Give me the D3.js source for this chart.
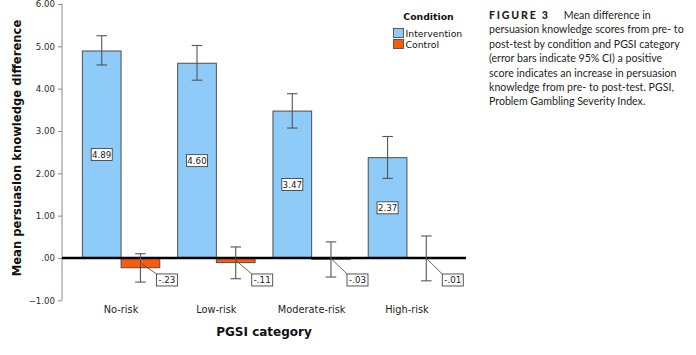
<!DOCTYPE html>
<html><head><meta charset="utf-8">
<script src="https://cdn.jsdelivr.net/npm/d3@7"></script>
<style>
body{margin:0;background:#fff;}
svg{display:block;}
</style></head>
<body><svg id="c" width="696" height="355"></svg>
<script>
const categories = ["No-risk","Low-risk","Moderate-risk","High-risk"];
const conditions = ["Intervention","Control"];
const intervention = [4.89, 4.60, 3.47, 2.37];
const control = [-0.23, -0.11, -0.03, -0.01];
const interventionLow = [4.56, 4.20, 3.07, 1.88];
const interventionHigh = [5.25, 5.02, 3.88, 2.87];
const controlLow = [-0.57, -0.49, -0.45, -0.54];
const controlHigh = [0.10, 0.26, 0.38, 0.52];
const yTicks = [6,5,4,3,2,1,0,-1];
const captionLines = [
  "persuasion knowledge scores from pre- to",
  "post-test by condition and PGSI category",
  "(error bars indicate 95% CI) a positive",
  "score indicates an increase in persuasion",
  "knowledge from pre- to post-test. PGSI,",
  "Problem Gambling Severity Index."
];
const colors = {Intervention:"#8ecbf8", Control:"#fc5b0a"};

const svg = d3.select("#c");
const font = "DejaVu Sans, sans-serif";
const x0 = d3.scaleBand().domain(categories).range([62,466]).paddingOuter(0.12).paddingInner(0);
const x1 = d3.scaleBand().domain(conditions).range([0, 77.4]);
const y = d3.scaleLinear().domain([-1,6]).range([300.3,4]);

// y axis
const yAxis = d3.axisLeft(y).tickValues(yTicks).tickSize(4).tickPadding(3)
  .tickFormat(d => d===0 ? ".00" : d3.format(".2f")(d));
const ga = svg.append("g").attr("transform","translate(62,0)").call(yAxis);
ga.select(".domain").attr("stroke","#8a8a8a").attr("d",`M0,${y(6)}V${y(-1)}`);
ga.selectAll(".tick line").attr("stroke","#8a8a8a");
ga.selectAll(".tick text").attr("font-family",font).attr("font-size","8.6px").attr("fill","#2a2a2a");

const data = [];
categories.forEach((c,i)=>{
  data.push({cat:c,cond:"Intervention",v:intervention[i],lo:interventionLow[i],hi:interventionHigh[i]});
  data.push({cat:c,cond:"Control",v:control[i],lo:controlLow[i],hi:controlHigh[i]});
});
const gx = c => x0(c) + (x0.bandwidth()-77.4)/2;

svg.append("g").selectAll("rect").data(data).join("rect")
  .attr("x",d=>gx(d.cat)+x1(d.cond))
  .attr("width",x1.bandwidth())
  .attr("y",d=>Math.min(y(d.v),y(0)))
  .attr("height",d=>Math.abs(y(d.v)-y(0)))
  .attr("fill",d=>colors[d.cond])
  .attr("stroke","#4d4d4d").attr("stroke-width",1);

// zero line
svg.append("line").attr("x1",62).attr("x2",466).attr("y1",y(0)).attr("y2",y(0))
  .attr("stroke","#000").attr("stroke-width",2.4);

// error bars
const eb = svg.append("g").attr("stroke","#555").attr("stroke-width",1.1);
data.forEach(d=>{
  const cx = gx(d.cat)+x1(d.cond)+x1.bandwidth()/2;
  eb.append("line").attr("x1",cx).attr("x2",cx).attr("y1",y(d.hi)).attr("y2",y(d.lo));
  eb.append("line").attr("x1",cx-5.3).attr("x2",cx+5.3).attr("y1",y(d.hi)).attr("y2",y(d.hi));
  eb.append("line").attr("x1",cx-5.3).attr("x2",cx+5.3).attr("y1",y(d.lo)).attr("y2",y(d.lo));
});

// value labels
const fmt = v => (v<0?"-":"") + d3.format(".2f")(Math.abs(v)).replace(/^0/,"");
const lg = svg.append("g");
data.forEach(d=>{
  const cx = gx(d.cat)+x1(d.cond)+x1.bandwidth()/2;
  const bw = 21, bh = 12;
  let bx, by;
  if (d.v >= 0) {
    bx = cx - bw/2; by = y(d.v/2) - bh/2;
  } else {
    bx = cx + 16; by = y(0) + 16;
    lg.append("line").attr("x1",cx).attr("y1",y(d.v/2)).attr("x2",bx).attr("y2",by)
      .attr("stroke","#555").attr("stroke-width",0.9);
  }
  lg.append("rect").attr("x",bx).attr("y",by).attr("width",bw).attr("height",bh)
    .attr("fill","#fff").attr("stroke","#444").attr("stroke-width",0.9);
  lg.append("text").attr("x",bx+bw/2).attr("y",by+bh/2).attr("dy","0.35em")
    .attr("text-anchor","middle").attr("font-family",font).attr("font-size","8.7px")
    .attr("fill","#222").text(fmt(d.v));
});

// x category labels
svg.append("g").selectAll("text").data(categories).join("text")
  .attr("x",c=>x0(c)+x0.bandwidth()/2).attr("y",310).attr("dy","0.35em")
  .attr("text-anchor","middle").attr("font-family",font).attr("font-size","9.8px")
  .attr("fill","#222").text(c=>c);

// axis titles
svg.append("text").attr("x",264).attr("y",332).attr("dy","0.35em").attr("text-anchor","middle")
  .attr("font-family",font).attr("font-weight","bold").attr("font-size","12px").attr("fill","#111")
  .text("PGSI category");
svg.append("text").attr("transform","translate(17,148) rotate(-90)").attr("dy","0.35em")
  .attr("text-anchor","middle").attr("font-family",font).attr("font-weight","bold")
  .attr("font-size","11.6px").attr("fill","#111").text("Mean persuasion knowledge difference");

// legend
svg.append("text").attr("x",428.5).attr("y",17).attr("dy","0.35em").attr("text-anchor","middle")
  .attr("font-family",font).attr("font-weight","bold").attr("font-size","9.3px").attr("fill","#111")
  .text("Condition");
conditions.forEach((c,i)=>{
  svg.append("rect").attr("x",393.5).attr("y",28.5+i*11).attr("width",10).attr("height",9)
    .attr("fill",colors[c]).attr("stroke","#4d4d4d").attr("stroke-width",0.9);
  svg.append("text").attr("x",405.5).attr("y",33.3+i*11).attr("dy","0.35em")
    .attr("font-family",font).attr("font-size","9.3px").attr("fill","#111").text(c);
});

// caption
const cap = svg.append("g").attr("font-family","Lato, sans-serif").attr("font-size","10.6px").attr("fill","#231f20");
const t0 = cap.append("text").attr("x",489).attr("y",15).attr("dy","0.35em");
t0.append("tspan").attr("font-weight","900").attr("letter-spacing","1.8px").text("FIGURE 3");
t0.append("tspan").attr("dx","14").text("Mean difference in");
captionLines.forEach((l,i)=>{
  cap.append("text").attr("x",489).attr("y",15+(i+1)*14.45).attr("dy","0.35em").text(l);
});
</script></body></html>
